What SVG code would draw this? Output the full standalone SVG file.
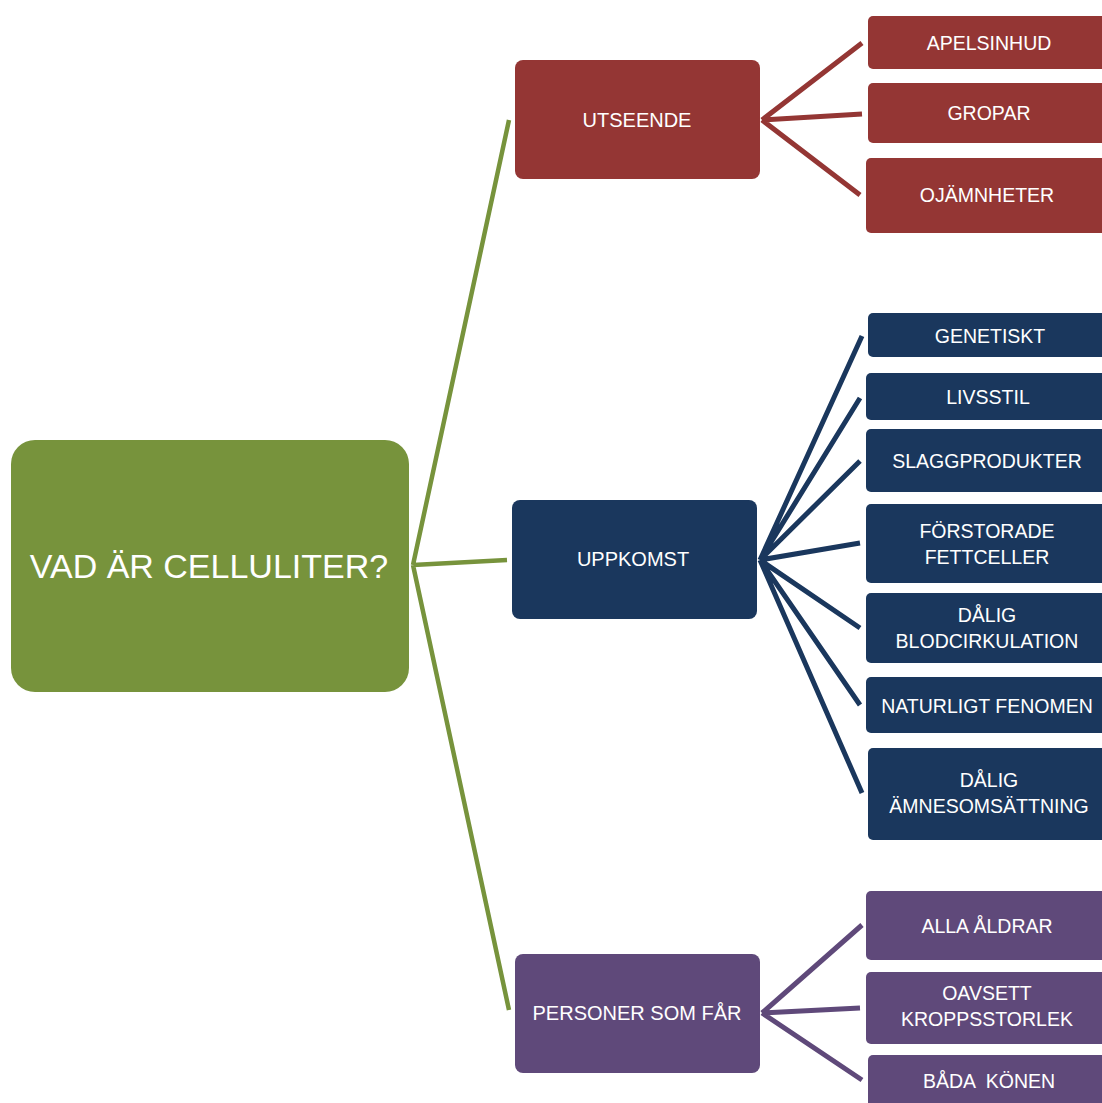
<svg xmlns="http://www.w3.org/2000/svg" width="1102" height="1103" viewBox="0 0 1102 1103">
<style>
text{font-family:"Liberation Sans",Arial,sans-serif;fill:#fff;text-anchor:middle}
.c{font-size:19.5px}
.m{font-size:20px}
.r{font-size:34px}
.red{fill:#943634}
.blue{fill:#1A375D}
.pur{fill:#5F497A}
.grn{fill:#77933C}
.lg{stroke:#77933C;stroke-width:4.5;fill:none}
.lr{stroke:#943634;stroke-width:5;fill:none}
.lb{stroke:#1A375D;stroke-width:5;fill:none}
.lp{stroke:#5F497A;stroke-width:5;fill:none}
</style>
<rect width="1102" height="1103" fill="#fff"/>
<g id="connectors">
<path class="lg" d="M413 565 L509 120 M413 565 L507 560 M413 565 L509 1010"/>
<path class="lr" d="M762 120 L862 43 M762 120 L862 114 M762 120 L860 195"/>
<path class="lb" d="M760 560 L862 336 M760 560 L860 398 M760 560 L860 461 M760 560 L860 543 M760 560 L860 628 M760 560 L860 705 M760 560 L862 793"/>
<path class="lp" d="M762 1013 L862 925 M762 1013 L860 1008 M762 1013 L862 1080"/>
</g>
<g id="root"><rect class="grn" x="11" y="440" width="398" height="252" rx="24"/><text class="r" x="209" y="578">VAD ÄR CELLULITER?</text></g>
<g id="utseende"><rect class="red" x="515" y="60" width="245" height="119" rx="8"/><text class="m" x="637" y="127">UTSEENDE</text></g>
<g id="uppkomst"><rect class="blue" x="512" y="500" width="245" height="119" rx="8"/><text class="m" x="633" y="566">UPPKOMST</text></g>
<g id="personer"><rect class="pur" x="515" y="954" width="245" height="119" rx="8"/><text class="m" x="637" y="1020">PERSONER SOM FÅR</text></g>
<g id="apelsinhud"><rect class="red" x="868" y="16" width="245" height="53" rx="5"/><text class="c" x="989" y="50">APELSINHUD</text></g>
<g id="gropar"><rect class="red" x="868" y="83" width="245" height="60" rx="5"/><text class="c" x="989" y="120">GROPAR</text></g>
<g id="ojamnheter"><rect class="red" x="866" y="158" width="245" height="75" rx="5"/><text class="c" x="987" y="202">OJÄMNHETER</text></g>
<g id="genetiskt"><rect class="blue" x="868" y="313" width="245" height="44" rx="5"/><text class="c" x="990" y="343">GENETISKT</text></g>
<g id="livsstil"><rect class="blue" x="866" y="373" width="245" height="47" rx="5"/><text class="c" x="988" y="404">LIVSSTIL</text></g>
<g id="slagg"><rect class="blue" x="866" y="429" width="245" height="63" rx="5"/><text class="c" x="987" y="468">SLAGGPRODUKTER</text></g>
<g id="forstorade"><rect class="blue" x="866" y="504" width="245" height="79" rx="5"/><text class="c" x="987" y="538">FÖRSTORADE</text><text class="c" x="987" y="564">FETTCELLER</text></g>
<g id="blodcirk"><rect class="blue" x="866" y="593" width="245" height="70" rx="5"/><text class="c" x="987" y="622">DÅLIG</text><text class="c" x="987" y="648">BLODCIRKULATION</text></g>
<g id="naturligt"><rect class="blue" x="866" y="677" width="245" height="56" rx="5"/><text class="c" x="987" y="713">NATURLIGT FENOMEN</text></g>
<g id="amnesom"><rect class="blue" x="868" y="748" width="245" height="92" rx="5"/><text class="c" x="989" y="787">DÅLIG</text><text class="c" x="989" y="813">ÄMNESOMSÄTTNING</text></g>
<g id="alla"><rect class="pur" x="866" y="891" width="245" height="69" rx="5"/><text class="c" x="987" y="933">ALLA ÅLDRAR</text></g>
<g id="oavsett"><rect class="pur" x="866" y="972" width="245" height="72" rx="5"/><text class="c" x="987" y="1000">OAVSETT</text><text class="c" x="987" y="1026">KROPPSSTORLEK</text></g>
<g id="bada"><rect class="pur" x="868" y="1055" width="245" height="60" rx="5"/><text class="c" x="989" y="1088" xml:space="preserve">BÅDA  KÖNEN</text></g>
</svg>
